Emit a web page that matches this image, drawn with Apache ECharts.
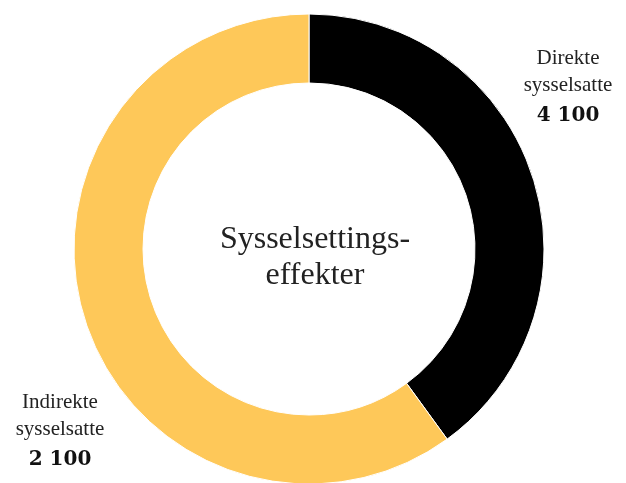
<!DOCTYPE html>
<html><head><meta charset="utf-8">
<script src="https://cdn.jsdelivr.net/npm/echarts@6/dist/echarts.min.js"></script>
<style>html,body{margin:0;padding:0;background:#fff}#c{width:626px;height:483px}</style>
</head><body><div id="c"></div>
<script>
const categories = ['Direkte sysselsatte', 'Indirekte sysselsatte'];
const sliceShares = [40, 60];
const labelValues = ['4 100', '2 100'];
const colors = ['#000000', '#FEC859'];
const centerTitle = 'Sysselsettings-\neffekter';

const chart = echarts.init(document.getElementById('c'), null, {renderer: 'canvas'});
const font = '"Liberation Serif", "DejaVu Serif", serif';
const numFont = '"DejaVu Serif", serif';
const labelStyle = (name, val) => ({
  text: name.replace(' ', '\n') + '\n{b|' + val + '}',
  align: 'center', verticalAlign: 'top', font: '21px ' + font, fill: '#222', lineHeight: 27,
  rich: {b: {fontWeight: 'bold', fontSize: 20, fontFamily: numFont, lineHeight: 34, fill: '#111'}}
});
chart.setOption({
  animation: false,
  title: {
    text: centerTitle, left: 310, top: 253, textAlign: 'center', textVerticalAlign: 'middle',
    textStyle: {fontFamily: font, fontSize: 32, fontWeight: 'normal', color: '#222', lineHeight: 36}
  },
  series: [{
    type: 'pie', center: [309, 249], radius: [166, 235], startAngle: 90, clockwise: true,
    label: {show: false}, labelLine: {show: false},
    itemStyle: {borderColor: '#fff', borderWidth: 1},
    data: categories.map((c, i) => ({name: c, value: sliceShares[i], itemStyle: {color: colors[i]}}))
  }],
  graphic: [
    {type: 'text', x: 568, y: 45, style: labelStyle(categories[0], labelValues[0])},
    {type: 'text', x: 60, y: 389, style: labelStyle(categories[1], labelValues[1])}
  ]
});
</script></body></html>
